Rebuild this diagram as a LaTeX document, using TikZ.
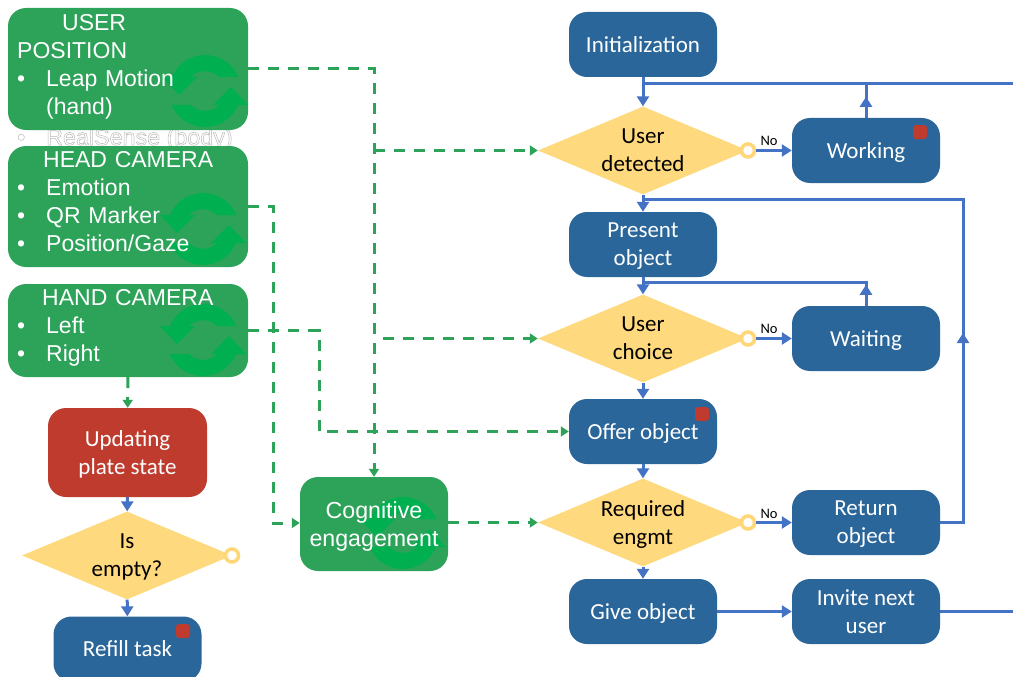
\documentclass[tikz,border=0pt]{standalone}
\usepackage{fontspec}
\setmainfont{Carlito}
\newfontfamily\arialfont{Liberation Sans}
\usetikzlibrary{arrows.meta,shapes.geometric,calc}
\definecolor{boxgreen}{RGB}{44,163,89}
\definecolor{iconLgreen}{RGB}{0,176,80}
\definecolor{boxblue}{RGB}{42,102,153}
\definecolor{boxred}{RGB}{190,59,46}
\definecolor{boxyellow}{RGB}{255,217,125}
\definecolor{ringyellow}{RGB}{255,215,120}
\definecolor{linkblue}{RGB}{68,114,196}
\newcommand{\refreshicon}[2]{%
\foreach \turn in {0,180}{
\fill[iconLgreen,shift={(#1,#2)},rotate=\turn] (-43,14) -- (-33,14) arc[start angle=157,end angle=23,radius=36pt]
 -- (14,14) arc[start angle=45,end angle=135,radius=20pt] -- (-8,14) -- (-26,-4) -- cycle;
}}
\newcommand{\bulletitem}[1]{\makebox[29pt][l]{\textbullet}#1}
\tikzset{
 block/.style={rectangle,rounded corners=18pt,minimum width=148pt,minimum height=65pt,
  inner sep=0pt,align=center,text=white,text depth=-4pt,font=\fontsize{23}{28}\selectfont},
 task/.style={block,fill=boxblue},
 alert/.style={block,fill=boxred,minimum width=159pt,minimum height=89pt},
 decision/.style={diamond,fill=boxyellow,shape aspect=2.386,minimum width=210pt,minimum height=88pt,
  inner sep=0pt,align=center,text=black,text depth=-4pt,font=\fontsize{23}{28}\selectfont},
 ring/.style={circle,draw=ringyellow,fill=white,line width=3.6pt,minimum size=13pt,inner sep=0pt},
 sensor/.style={rectangle,rounded corners=18pt,fill=boxgreen,minimum width=240pt,inner sep=0pt},
 sensortext/.style={anchor=north west,inner sep=0pt,text width=222pt,align=left,text=white,
  font=\arialfont\fontsize{23}{28}\selectfont},
 busy/.style={rectangle,rounded corners=3pt,fill=boxred,minimum size=14pt,inner sep=0pt},
 link/.style={draw=linkblue,line width=3pt},
 flow/.style={link,-{Triangle[length=10pt,width=12pt]}},
 feed/.style={draw=boxgreen,line width=3pt,dash pattern=on 11pt off 9pt},
 feedarrow/.style={feed,-{Triangle[length=8pt,width=10pt]}},
 nolabel/.style={font=\fontsize{14.5}{16}\selectfont,inner sep=0pt}
}
\begin{document}
\begin{tikzpicture}[x=1pt,y=1pt]
\useasboundingbox (0,0) rectangle (1013,-677);
\clip (0,0) rectangle (1013,-677);
\node[anchor=west,inner sep=0pt,font=\arialfont\fontsize{23.3}{27.5}\selectfont] (hidden) at (17,-139)
 {\special{pdf:code q 1 Tr 0.5 w 0.72 G}\bulletitem{RealSense (body)}\special{pdf:code Q}};

\node[sensor,minimum height=122pt] (userpos) at (128,-69) {};
\refreshicon{205}{-91}
\node[sensortext] (userpostext) at (17,-14)
 {\hspace*{45pt}USER\\POSITION\\\bulletitem{Leap Motion}\\\hspace*{29pt}(hand)};
\node[sensor,minimum height=121pt] (headcam) at (128,-206.5) {};
\refreshicon{203}{-229}
\node[sensortext] (headcamtext) at (17,-151)
 {\hspace*{26pt}HEAD CAMERA\\\bulletitem{Emotion}\\\bulletitem{QR Marker}\\\bulletitem{Position/Gaze}};
\node[sensor,minimum height=93pt] (handcam) at (128,-330.5) {};
\refreshicon{203}{-340}
\node[sensortext] (handcamtext) at (17,-289)
 {\hspace*{25pt}HAND CAMERA\\\bulletitem{Left}\\\bulletitem{Right}};
\node[sensor,minimum width=148pt,minimum height=94pt] (cognitive) at (374,-524) {};
\refreshicon{403}{-533}
\node[text=white,align=center,inner sep=0pt,text depth=0pt,font=\arialfont\fontsize{23.2}{28}\selectfont] (cognitivetext) at (cognitive)
 {Cognitive\\engagement};

\node[alert] (updating) at (127.5,-452.5) {Updating\\plate state};
\node[decision] (isempty) at (127,-555.5) {Is\\empty?};
\node[ring] (isemptyring) at (232,-555.5) {};
\node[task] (refill) at (127.5,-649) {Refill task};
\node[busy] at (183,-631) {};

\node[task] (init) at (643,-44.5) {Initialization};
\node[decision] (detected) at (643,-150.5) {User\\detected};
\node[ring] (detectedring) at (748,-150.5) {};
\node[task] (working) at (866,-150.5) {Working};
\node[busy] at (920,-132) {};
\node[task] (present) at (643,-244.5) {Present\\object};
\node[decision] (choice) at (643,-338.5) {User\\choice};
\node[ring] (choicering) at (748,-338.5) {};
\node[task] (waiting) at (866,-338.5) {Waiting};
\node[task] (offer) at (643,-431.5) {Offer object};
\node[busy] at (702,-414) {};
\node[decision] (required) at (643,-522.5) {Required\\engmt};
\node[ring] (requiredring) at (748,-522.5) {};
\node[task] (return) at (866,-522.5) {Return\\object};
\node[task] (give) at (643,-611.5) {Give object};
\node[task] (invite) at (866,-611.5) {Invite next\\user};

\coordinate (busleft) at (643,-84);
\coordinate (busright) at (1013,-84);
\coordinate (exitright) at (1013,-611.5);
\coordinate (backtop) at (963,-199);
\coordinate (backleft) at (643,-199);
\coordinate (backlow) at (963,-522.5);
\coordinate (waitleft) at (643,-282);
\coordinate (waitright) at (866,-282);

\draw[flow] (init) -- (detected);
\draw[link] (busleft) -- (busright);
\draw[link] (working) -- (working |- busright);
\draw[flow] (working.north) -- ++(0,21);
\draw[flow] (detected) -- (present);
\draw[flow] (present) -- (choice);
\draw[flow] (choice) -- (offer);
\draw[flow] (offer) -- (required);
\draw[flow] (required) -- (give);
\draw[flow] (give) -- (invite);
\draw[link] (invite) -- (exitright);
\draw[flow] (detectedring) -- (working);
\draw[flow] (choicering) -- (waiting);
\draw[flow] (requiredring) -- (return);
\draw[link] (return) -- (backlow) -- (backtop) -- (backleft);
\draw[flow] (backlow) -- (963,-333);
\draw[link] (waiting) -- (waitright) -- (waitleft);
\draw[flow] (waiting.north) -- ++(0,21);
\draw[flow] (updating) -- (isempty);
\draw[flow] (isempty) -- (refill);

\node[nolabel] at (769,-141) {No};
\node[nolabel] at (769,-329) {No};
\node[nolabel] at (769,-514) {No};

\draw[feedarrow] (userpos.east |- 0,-69) -- (374,-69) -- (cognitive.north);
\draw[feedarrow] (374,-150.5) -- (detected.west);
\draw[feedarrow] (headcam.east) -- (273,-206.5) -- (273,-523) -- (cognitive.west |- 0,-523);
\draw[feedarrow] (handcam.east) -- (319,-330.5) -- (319,-431.5) -- (offer.west);
\draw[feedarrow] (383,-338.5) -- (choice.west);
\draw[feedarrow] (cognitive.east |- 0,-522.5) -- (required.west);
\draw[feedarrow] (handcam) -- (updating);
\end{tikzpicture}
\end{document}
